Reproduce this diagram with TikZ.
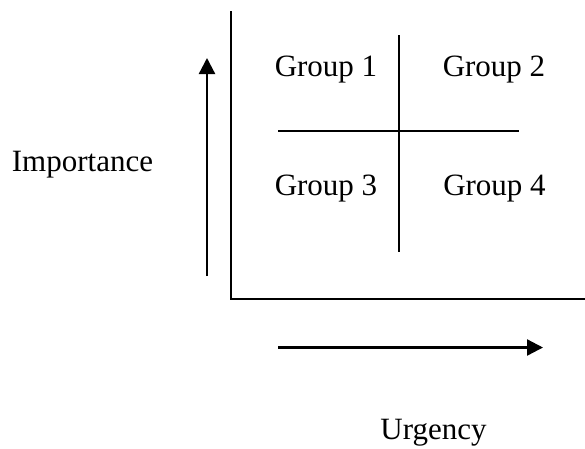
\documentclass[tikz,border=0pt]{standalone}
\usepackage{fontspec}
\setmainfont{Liberation Serif}
\usetikzlibrary{arrows.meta}
\begin{document}
\begin{tikzpicture}[x=1pt,y=-1pt,
  line/.style={line width=2.3pt},
  arr/.style={line width=2.3pt,-{Triangle[length=16pt,width=16pt]}},
  lbl/.style={anchor=base,inner sep=0pt,font=\fontsize{31}{36}\selectfont}]
\useasboundingbox (0,0) rectangle (585,448);
% axes
\coordinate (ytop) at (231,11);
\coordinate (origin) at (231,299);
\coordinate (xend) at (585,299);
\draw[line] (ytop) -- (origin) -- (xend);
% cross
\coordinate (vtop) at (399,35);
\coordinate (vbot) at (399,252);
\coordinate (hl) at (278,131);
\coordinate (hr) at (519,131);
\draw[line] (vtop) -- (vbot);
\draw[line] (hl) -- (hr);
% arrows
\coordinate (ua) at (207,276);
\coordinate (ub) at (207,58);
\draw[arr] (ua) -- (ub);
\coordinate (ra) at (278,347.5);
\coordinate (rb) at (543,347.5);
\draw[arr] (ra) -- (rb);
% labels
\node[lbl] (g1) at (326,76.5) {Group 1};
\node[lbl] (g2) at (494,76.5) {Group 2};
\node[lbl] (g3) at (326,195) {Group 3};
\node[lbl] (g4) at (494.5,195) {Group 4};
\node[lbl] (imp) at (82.5,171.5) {Importance};
\node[lbl] (urg) at (433.5,439.5) {Urgency};
\end{tikzpicture}
\end{document}
